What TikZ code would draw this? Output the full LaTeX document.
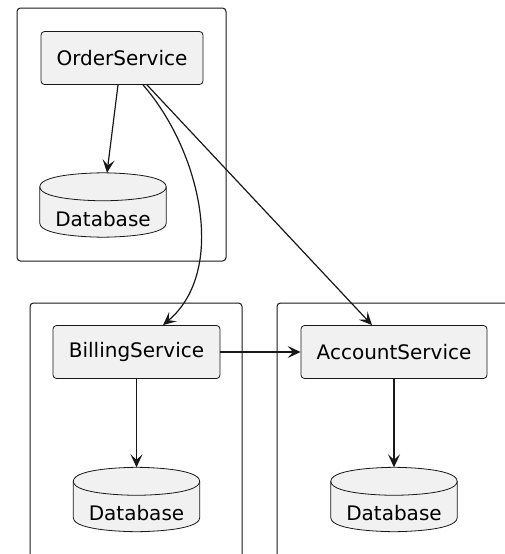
\documentclass[tikz,border=0pt]{standalone}
\usepackage{fontspec}
\setmainfont{DejaVu Sans}
\usetikzlibrary{calc,arrows.meta}
\definecolor{boxfill}{HTML}{F1F1F1}
\definecolor{ink}{HTML}{181818}
\newcommand\dbdraw[1]{%
  \path[dbline] let \p1=(#1.north west), \p2=(#1.south east), \p3=(#1.north) in
    (\x1,\y1-14pt) .. controls (\x1,\y1) and (\x3,\y1) .. (\x3,\y1)
    .. controls (\x3,\y1) and (\x2,\y1) .. (\x2,\y1-14pt)
    -- (\x2,\y2+14pt) .. controls (\x2,\y2) and (\x3,\y2) .. (\x3,\y2)
    .. controls (\x3,\y2) and (\x1,\y2) .. (\x1,\y2+14pt) -- cycle;
  \path[dbinner] let \p1=(#1.north west), \p2=(#1.south east), \p3=(#1.north) in
    (\x1,\y1-14pt) .. controls (\x1,\y1-28pt) and (\x3,\y1-28pt) .. (\x3,\y1-28pt)
    .. controls (\x3,\y1-28pt) and (\x2,\y1-28pt) .. (\x2,\y1-14pt);
}
\begin{document}
\begin{tikzpicture}[x=1pt,y=-1pt,
  frame/.style={draw=ink, line width=1pt, rounded corners=3.5pt, inner sep=0pt},
  comp/.style={draw=ink, fill=boxfill, line width=0.8pt, rounded corners=3.5pt, inner sep=0pt, minimum height=53pt, font=\fontsize{20}{24}\selectfont},
  dbbox/.style={inner sep=0pt, minimum width=126pt, minimum height=64pt},
  dbline/.style={draw=ink, fill=boxfill, line width=0.8pt},
  dbinner/.style={draw=ink, line width=0.8pt},
  dblabel/.style={inner sep=0pt, font=\fontsize{20}{24}\selectfont},
  link/.style={draw=ink, line width=1.2pt, -{Stealth[length=13pt,width=12pt,inset=5.5pt]}}]
\path[use as bounding box] (0,0) rectangle (504,554);

% frames
\node[frame, minimum width=209pt, minimum height=253pt] (f1) at (121.5,134.5) {};
\node[frame, minimum width=212pt, minimum height=272pt] (f2) at (136,439) {};
\node[frame, minimum width=253pt, minimum height=272pt] (f3) at (403.5,439) {};

% components
\node[comp, minimum width=162pt] (order) at (122,58) {OrderService};
\node[comp, minimum width=167pt] (billing) at (136.5,352) {BillingService};
\node[comp, minimum width=186pt] (account) at (394,352) {AccountService};

% databases
\node[dbbox] (db1) at (103,205) {};
\node[dbbox] (db2) at (136.5,499.5) {};
\node[dbbox] (db3) at (394,499.5) {};
\dbdraw{db1}
\dbdraw{db2}
\dbdraw{db3}
\node[dblabel] (db1t) at ($(db1.center)+(0,14.5)$) {Database};
\node[dblabel] (db2t) at ($(db2.center)+(0,14)$) {Database};
\node[dblabel] (db3t) at ($(db3.center)+(0,14)$) {Database};

% connectors
\draw[link] ($(order.south)+(-4,0)$) -- ($(db1.north)+(4,0)$);
\draw[link] ($(order.south)+(21,0)$) .. controls (200,150) and (228,270) .. ($(billing.north)+(26.5,0)$);
\draw[link] ($(order.south)+(25,0)$) -- ($(account.north)+(-22,0)$);
\draw[link] (billing) -- (account);
\draw[link] (billing.south) -- (db2.north);
\draw[link] (account.south) -- (db3.north);
\end{tikzpicture}
\end{document}
